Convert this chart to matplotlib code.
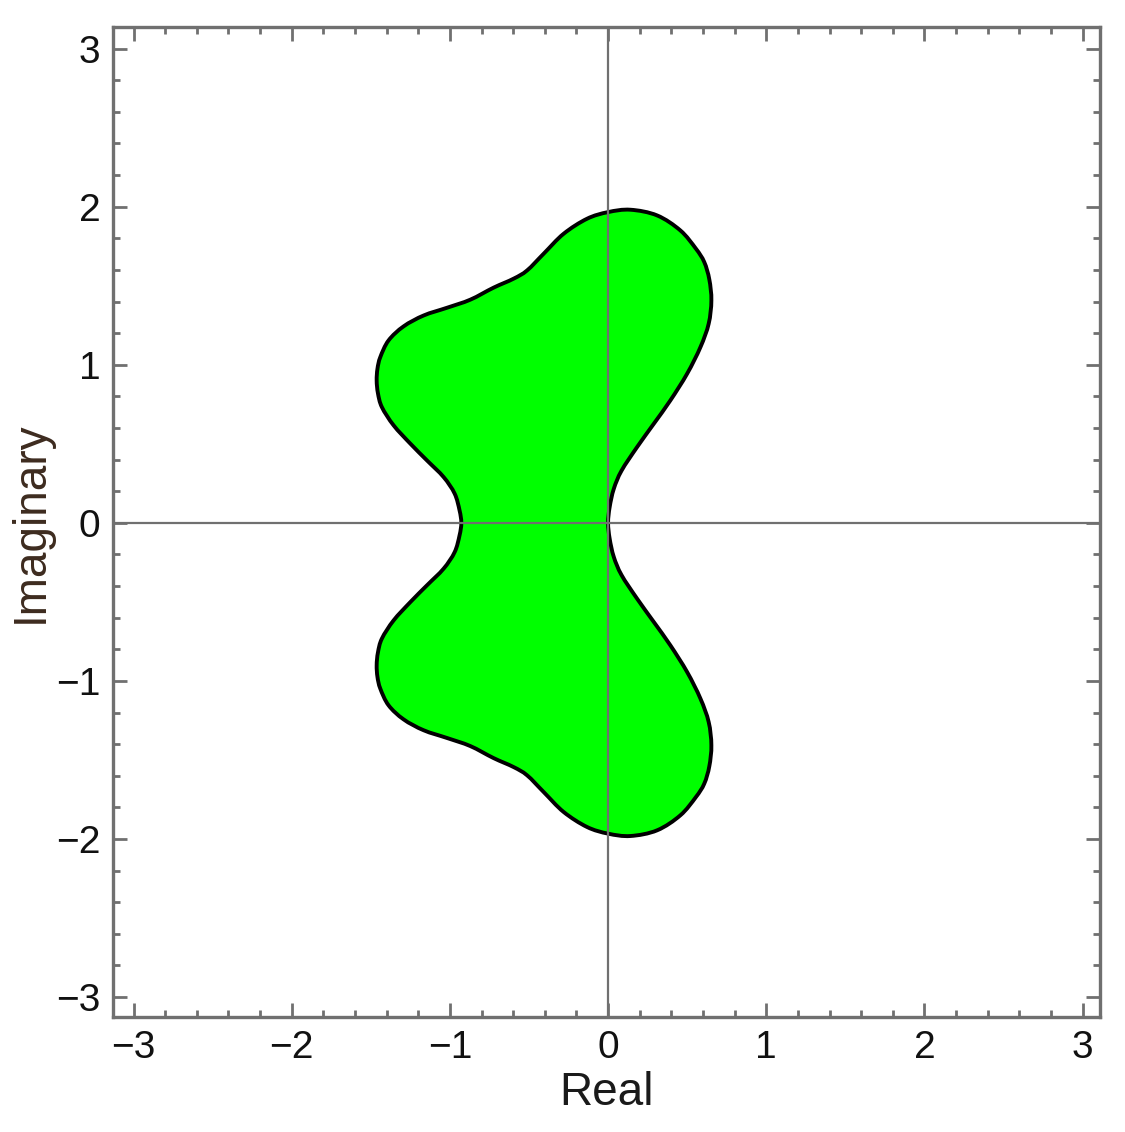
import numpy as np
import matplotlib
matplotlib.use("Agg")
import matplotlib.pyplot as plt
from matplotlib.path import Path
from matplotlib.patches import PathPatch
from matplotlib.ticker import MultipleLocator

# Boundary of the region (upper half), from origin
# up the right side, over the top and down the left side to the real axis.
upper_re = [0.000, 0.010, 0.036, 0.085, 0.183, 0.289, 0.394, 0.500, 0.584, 0.636,
            0.653, 0.640, 0.608, 0.555, 0.457, 0.310, 0.141, 0.000, -0.133, -0.281, -0.407,
            -0.512, -0.597, -0.724, -0.871, -1.018, -1.166, -1.293, -1.388, -1.440, -1.458,
            -1.463, -1.455, -1.430, -1.356, -1.250, -1.145, -1.040, -0.970, -0.939, -0.928]
upper_im = [0.000, 0.100, 0.215, 0.330, 0.479, 0.627, 0.775, 0.944, 1.112, 1.260,
            1.407, 1.540, 1.650, 1.735, 1.850, 1.945, 1.981, 1.966, 1.924, 1.829, 1.703,
            1.597, 1.545, 1.488, 1.412, 1.361, 1.312, 1.243, 1.154, 1.049, 0.975,
            0.900, 0.820, 0.732, 0.617, 0.501, 0.395, 0.290, 0.185, 0.079, 0.000]

x_ticks = [-3, -2, -1, 0, 1, 2, 3]
y_ticks = [-3, -2, -1, 0, 1, 2, 3]
x_label = "Real"
y_label = "Imaginary"

# region is symmetric about the real axis
re = np.array(upper_re + upper_re[-2:0:-1])
im = np.array(upper_im + [-v for v in upper_im[-2:0:-1]])

plt.rcParams['font.family'] = ['Liberation Sans', 'DejaVu Sans']

fig = plt.figure(figsize=(11.25, 11.32), dpi=100)
ax = fig.add_axes([113/1125, 1 - 1017/1132, (1100-113)/1125, (1017-27)/1132])

# smooth closed curve through the traced points (Catmull-Rom -> Bezier)
P = np.column_stack([re, im])
n = len(P)
verts = [P[0]]
codes = [Path.MOVETO]
for i in range(n):
    p0 = P[(i - 1) % n]; p1 = P[i]; p2 = P[(i + 1) % n]; p3 = P[(i + 2) % n]
    c1 = p1 + (p2 - p0) / 6.0
    c2 = p2 - (p3 - p1) / 6.0
    verts += [c1, c2, p2]
    codes += [Path.CURVE4] * 3
verts.append(P[0]); codes.append(Path.CLOSEPOLY)
patch = PathPatch(Path(verts, codes), facecolor='#00ff00', edgecolor='black',
                  lw=2.8, zorder=3)
ax.add_patch(patch)

gray = '#707070'
ax.axhline(0, color=gray, lw=1.6, zorder=4)
ax.axvline(0, color=gray, lw=1.6, zorder=4)

ax.set_xlim(-3.13, 3.11)
ax.set_ylim(-3.126, 3.137)
ax.set_xticks(x_ticks)
ax.set_yticks(y_ticks)
ax.xaxis.set_minor_locator(MultipleLocator(0.2))
ax.yaxis.set_minor_locator(MultipleLocator(0.2))
for s in ax.spines.values():
    s.set_color(gray)
    s.set_linewidth(2.4)
ax.tick_params(which='both', direction='in', top=True, right=True, color=gray,
               width=2.0)
ax.tick_params(which='major', length=10, labelsize=28, pad=9, labelcolor='#111111')
ax.tick_params(which='minor', length=5)
ax.set_xlabel(x_label, fontsize=33, color='#1a1a1a', labelpad=4)
ax.set_ylabel(y_label, fontsize=33, color='#3d2b1f', labelpad=2)

fig.savefig('out.png', dpi=100)
